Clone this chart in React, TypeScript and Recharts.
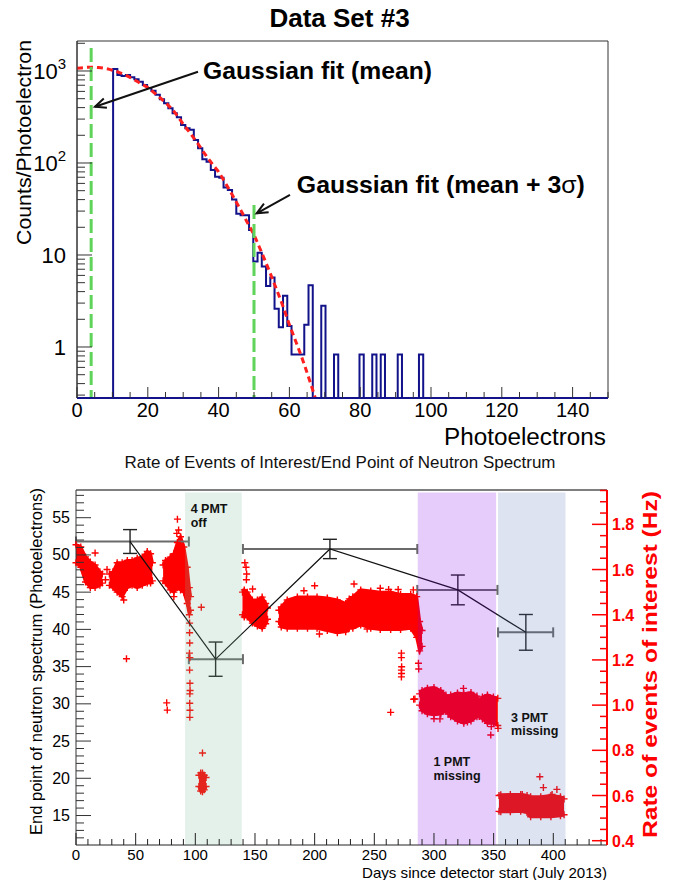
import React from "react";
import {
  ComposedChart,
  Line,
  Area,
  Scatter,
  XAxis,
  YAxis,
  ReferenceArea,
  ReferenceLine,
  ReferenceDot,
  ErrorBar,
} from "recharts";

const FONT = '"Liberation Sans", Arial, Helvetica, sans-serif';

// ---------- Data Set #3: photoelectron spectrum ----------
const BIN_START = 10.2;
const BIN_WIDTH = 1.2;
const EMPTY = 0.01; // empty bin: drawn down onto the axis
const E = EMPTY;
const binCounts = [
  1050, 905, 883, 905, 854, 813, 765, 704, 653, 611,
  550, 492, 446, 393, 347, 314, 259, 238, 230, 178,
  145, 110, 103, 84, 71, 69, 54, 51, 40, 28,
  27, 27, 18.7, 8.5, 10.6, 7.5, 4.6, 5.7, 2.6, 1.64,
  3.6, 1.69, 0.83, 0.83, 0.83, 1.74, 4.7, E, E, 2.8,
  E, E, 0.83, E, E, E, E, E, 0.83, E,
  E, 0.83, E, 0.83, E, E, E, 0.83, E, E,
  E, E, 0.83, E,
];
const fitX = [0, 2, 4, 6, 8, 10, 12, 14, 16, 18, 20, 22, 24, 26, 28, 30, 32, 34, 36, 38, 40, 42, 44, 46, 48, 50, 52, 54, 56, 58, 60, 62, 64, 66, 68];
const fitY = [1070, 1090, 1100, 1090, 1065, 1020, 960, 890, 810, 730, 660, 570, 490, 415, 340, 265, 210, 165, 127, 100, 80, 60, 44, 32, 23, 16.5, 11, 7.2, 4.6, 2.9, 1.75, 1.1, 0.68, 0.4, 0.23];
const meanX = 4;
const meanTop = 1780;
const mean3SigmaX = 50;
const mean3SigmaTop = 35;

const specXTicks = Array.from({ length: 31 }, (_, i) => i * 5);
const specXLabels = [0, 20, 40, 60, 80, 100, 120, 140];
const specDecades = [0.1, 1, 10, 100, 1000];
const specYTicks = specDecades
  .flatMap((d) => [1, 2, 3, 4, 5, 6, 7, 8, 9].map((m) => d * m))
  .filter((v) => v >= 0.29 && v <= 2100);

const histData = [
  { x: BIN_START - BIN_WIDTH, y: EMPTY },
  ...binCounts.map((c, k) => ({ x: BIN_START + k * BIN_WIDTH, y: c })),
  { x: 150, y: EMPTY },
];
const fitData = fitX.map((x, i) => ({ x, y: fitY[i] }));
const meanData = [
  { x: meanX, y: meanTop },
  { x: meanX, y: 0.279 },
];
const mean3SigmaData = [
  { x: mean3SigmaX, y: mean3SigmaTop },
  { x: mean3SigmaX, y: 0.279 },
];

// ---------- rate of events / end point ----------
// [day, low Hz, high Hz] envelopes of the dense runs of rate points
const runA: [number, number, number][] = [[0, 1.63, 1.71], [4, 1.61, 1.7], [8, 1.545, 1.656], [12, 1.52, 1.633], [16, 1.52, 1.62], [20, 1.53, 1.59], [22, 1.54, 1.58]];
const runB: [number, number, number][] = [[28, 1.53, 1.58], [31, 1.52, 1.59], [34.5, 1.5, 1.63], [38.7, 1.48, 1.63], [43, 1.52, 1.64], [47, 1.53, 1.64], [51.3, 1.52, 1.65], [55.5, 1.53, 1.655], [59.7, 1.54, 1.68], [62.5, 1.54, 1.67], [64, 1.55, 1.63]];
const runC: [number, number, number][] = [[73, 1.55, 1.62], [75, 1.54, 1.64], [79, 1.51, 1.655], [82, 1.5, 1.67], [85, 1.52, 1.72], [87.6, 1.51, 1.745], [90.4, 1.5, 1.7], [93.2, 1.45, 1.61], [95, 1.4, 1.52], [96, 1.42, 1.48]];
const runH: [number, number, number][] = [[103, 0.64, 0.69], [104.5, 0.62, 0.7], [106, 0.617, 0.7], [107.5, 0.625, 0.69], [109, 0.64, 0.68]];
const runD: [number, number, number][] = [[139.5, 1.4, 1.5], [141, 1.39, 1.51], [143.5, 1.39, 1.5], [147.8, 1.363, 1.465], [152, 1.35, 1.465], [156, 1.34, 1.478], [159, 1.36, 1.45], [160.5, 1.38, 1.43]];
const runE: [number, number, number][] = [[170, 1.37, 1.42], [172, 1.346, 1.434], [177, 1.34, 1.465], [185.5, 1.34, 1.478], [194, 1.34, 1.478], [202, 1.34, 1.478], [210.6, 1.33, 1.474], [219, 1.32, 1.465], [226, 1.325, 1.45], [229, 1.34, 1.47], [232, 1.34, 1.48], [238.6, 1.355, 1.51], [247, 1.34, 1.505], [255, 1.335, 1.5], [263.7, 1.335, 1.5], [272, 1.335, 1.49], [280.5, 1.34, 1.49], [285.5, 1.3, 1.48], [288, 1.24, 1.37], [290, 1.26, 1.33]];
const runF: [number, number, number][] = [[288, 1.0, 1.05], [290, 0.975, 1.065], [294.5, 0.962, 1.075], [300, 0.957, 1.078], [305.7, 0.96, 1.065], [310, 0.975, 1.045], [312, 0.96, 1.03], [314, 0.948, 1.045], [319.7, 0.93, 1.054], [325, 0.92, 1.05], [331, 0.93, 1.056], [336, 0.948, 1.04], [338, 0.95, 1.015], [340.6, 0.939, 1.036], [344.8, 0.92, 1.045], [349.8, 0.92, 1.036], [353.5, 0.91, 1.03]];
const runG: [number, number, number][] = [[354.5, 0.53, 0.6], [356, 0.528, 0.603], [364, 0.528, 0.605], [372.7, 0.53, 0.605], [378, 0.525, 0.6], [381, 0.506, 0.595], [389.5, 0.506, 0.595], [398, 0.506, 0.6], [406, 0.51, 0.595], [409, 0.515, 0.585]];
const rateRuns = [runA, runB, runC, runH, runD, runE, runF, runG];

// isolated rate points [day, Hz]
const rateOutliers: [number, number][] = [
  [16, 1.673], [26, 1.6], [24.7, 1.555], [40, 1.465], [42.3, 1.205], [76, 1.01], [76.5, 0.978],
  [82, 1.48], [85, 1.823], [86, 1.775], [84.5, 1.76], [95.2, 1.363], [95.2, 1.32], [95.3, 1.275],
  [95.1, 1.23], [95.4, 1.21], [95.2, 1.155], [95.5, 1.097], [95.6, 1.065], [95.4, 1.05],
  [95.3, 1.008], [95.5, 0.977], [95.4, 0.946], [105, 1.433], [106, 0.788], [148, 1.514],
  [141.5, 1.63], [142.5, 1.61], [143, 1.58], [142.8, 1.555], [191, 1.506], [200, 1.528],
  [204, 1.315], [233, 1.536], [255, 1.517], [262, 1.512], [270, 1.512], [282.7, 1.51],
  [244, 1.337], [272.7, 1.23], [272.7, 1.21], [272.9, 1.17], [272.7, 1.155], [272.8, 1.14],
  [272.7, 1.125], [287, 1.185], [287.2, 1.16], [284, 1.027], [263.7, 0.968],
  [324.7, 1.074], [283, 1.026], [348, 0.905], [347.6, 0.868], [353.7, 0.897], [300, 0.94],
  [305, 0.939], [328, 0.925], [388.7, 0.683], [391.7, 0.635], [403, 0.627], [399, 0.605], [374, 0.605],
];

// end point of the neutron spectrum per period
const endDays = [45.3, 117, 212.8, 320, 377];
const endValues = [51.8, 36.0, 50.8, 45.3, 39.6];
const endErrY = [1.6, 2.3, 1.3, 2.0, 2.4];
const endErrXLow = [45.3, 22.4, 72.9, 34, 23.3];
const endErrXHigh = [49.3, 22.9, 73.2, 33.2, 22.9];

const bandStart = [91.4, 286.4, 353.7];
const bandEnd = [138.9, 352.1, 410.2];

const dayTicks = Array.from({ length: 45 }, (_, i) => i * 10);
const leftTicks = Array.from({ length: 47 }, (_, i) => 12 + i);
const rightTicks = Array.from({ length: 32 }, (_, i) => +(0.4 + i * 0.05).toFixed(2));

const runData = rateRuns.map((run) => run.map(([day, lo, hi]) => ({ day, range: [lo, hi] })));
const edgePoints = rateRuns.flatMap((run) =>
  run.flatMap(([day, lo, hi]) => [
    { day, v: lo },
    { day, v: hi },
  ])
);
const outlierPoints = rateOutliers.map(([day, v]) => ({ day, v }));
const endData = endDays.map((day, i) => ({
  day,
  end: endValues[i],
  ey: endErrY[i],
  ex: [endErrXLow[i], endErrXHigh[i]],
}));

// ---------- ticks ----------
const SpecXTick = (p: any) => {
  const { x, y, payload } = p;
  const v = payload.value;
  const major = v % 20 === 0;
  return (
    <g>
      <line x1={x} x2={x} y1={y} y2={y - (major ? 11 : 6)} stroke="#333" />
      {major && specXLabels.includes(v) && (
        <text x={x} y={y + 19} textAnchor="middle" fontSize={20} fontFamily={FONT} fill="#000">
          {v}
        </text>
      )}
    </g>
  );
};

const LogTick = (p: any) => {
  const { x, y, payload } = p;
  const v = payload.value;
  const lg = Math.log10(v);
  const exp = Math.round(lg);
  const major = Math.abs(lg - exp) < 1e-6;
  return (
    <g>
      <line x1={x} x2={x + (major ? 15 : 8)} y1={y} y2={y} stroke="#333" />
      {major && (
        <text x={x - 11} y={y + 8} textAnchor="end" fontSize={22} fontFamily={FONT} fill="#000">
          {exp === 0 ? "1" : "10"}
          {exp > 1 && (
            <tspan dy={-10} fontSize={15}>
              {exp}
            </tspan>
          )}
        </text>
      )}
    </g>
  );
};

const DayTick = (p: any) => {
  const { x, y, payload } = p;
  const v = payload.value;
  const major = v % 50 === 0;
  return (
    <g>
      <line x1={x} x2={x} y1={y} y2={y - (major ? 12 : 6)} stroke="#222" />
      {major && v <= 400 && (
        <text x={x} y={y + 15} textAnchor="middle" fontSize={15} fontFamily={FONT} fill="#000">
          {v}
        </text>
      )}
    </g>
  );
};

const LeftTick = (p: any) => {
  const { x, y, payload } = p;
  const v = payload.value;
  const major = v % 5 === 0;
  return (
    <g>
      <line x1={x} x2={x + (major ? 15 : 8)} y1={y} y2={y} stroke="#333" />
      {major && (
        <text x={x - 6} y={y + 5.5} textAnchor="end" fontSize={16} fontFamily={FONT} fill="#000">
          {v}
        </text>
      )}
    </g>
  );
};

const RightTick = (p: any) => {
  const { x, y, payload } = p;
  const v = payload.value;
  const major = Math.abs(v / 0.2 - Math.round(v / 0.2)) < 1e-6;
  return (
    <g>
      <line x1={x} x2={x - (major ? 15 : 7)} y1={y} y2={y} stroke="#ff0000" strokeWidth={1.5} />
      {major && (
        <text x={x + 5} y={y + 6} fontSize={16} fontWeight="bold" fontFamily={FONT} fill="#ff0000">
          {v.toFixed(1)}
        </text>
      )}
    </g>
  );
};

// ---------- shapes ----------
const PlusMark = (p: any) => {
  const { cx, cy } = p;
  if (cx == null || cy == null) return <g />;
  return <path d={`M${cx - 3.5},${cy}H${cx + 3.5}M${cx},${cy - 3.5}V${cy + 3.5}`} stroke="#ff0000" strokeWidth={1.4} fill="none" />;
};

const NoMark = () => <g />;

const arrowShape = (dx: number, dy: number) => (p: any) => {
  const { cx, cy } = p;
  const tx = cx + dx;
  const ty = cy + dy;
  const ang = Math.atan2(cy - ty, cx - tx);
  const L = 12;
  const s = 0.42;
  const h1 = `${cx - L * Math.cos(ang - s)},${cy - L * Math.sin(ang - s)}`;
  const h2 = `${cx - L * Math.cos(ang + s)},${cy - L * Math.sin(ang + s)}`;
  return (
    <g>
      <line x1={tx} y1={ty} x2={cx} y2={cy} stroke="#111" strokeWidth={2} />
      <polyline points={`${h1} ${cx},${cy} ${h2}`} fill="none" stroke="#111" strokeWidth={2} />
    </g>
  );
};

const bigLabel = (content: React.ReactNode, len: number) => (p: any) => (
  <text x={p.cx} y={p.cy} fontSize={23} fontWeight="bold" fontFamily={FONT} fill="#000" textLength={len} lengthAdjust="spacingAndGlyphs">
    {content}
  </text>
);

const bandLabel = (l1: string, l2: string) => (p: any) => (
  <g>
    <text x={p.cx} y={p.cy} fontSize={12.5} fontWeight="bold" fontFamily={FONT} fill="#111">
      {l1}
    </text>
    <text x={p.cx} y={p.cy + 13.5} fontSize={12.5} fontWeight="bold" fontFamily={FONT} fill="#111">
      {l2}
    </text>
  </g>
);

function SpectrumChart() {
  return (
    <ComposedChart width={678} height={450} margin={{ top: 41, right: 70, bottom: 22, left: 0 }}>
      <XAxis
        type="number"
        dataKey="x"
        domain={[0, 150]}
        allowDataOverflow
        ticks={specXTicks}
        interval={0}
        tickSize={0}
        tickMargin={0}
        tick={<SpecXTick />}
        height={30}
        axisLine={{ stroke: "#12128a", strokeWidth: 2 }}
      />
      <YAxis
        type="number"
        scale="log"
        domain={[0.279, 2118]}
        allowDataOverflow
        ticks={specYTicks}
        interval={0}
        tickSize={0}
        tickMargin={0}
        tick={<LogTick />}
        width={77}
        axisLine={{ stroke: "#333" }}
      />
      <ReferenceArea x1={0} x2={150} fill="none" stroke="#333" strokeWidth={1} />
      <Line data={histData} dataKey="y" type="stepAfter" stroke="#12128a" strokeWidth={2} dot={false} activeDot={false} isAnimationActive={false} />
      <Line data={fitData} dataKey="y" type="monotone" stroke="#ff1f1f" strokeWidth={3} strokeDasharray="6 4" dot={false} activeDot={false} isAnimationActive={false} />
      <Line data={meanData} dataKey="y" stroke="#5fd35a" strokeWidth={3} strokeDasharray="14 5" dot={false} activeDot={false} isAnimationActive={false} />
      <Line data={mean3SigmaData} dataKey="y" stroke="#5fd35a" strokeWidth={3} strokeDasharray="14 5" dot={false} activeDot={false} isAnimationActive={false} />
      <ReferenceDot x={5.08} y={409} r={1} shape={arrowShape(103, -35)} />
      <ReferenceDot x={50.76} y={28.4} r={1} shape={arrowShape(33.3, -18.3)} />
      <ReferenceDot x={35.6} y={812} r={1} shape={bigLabel("Gaussian fit (mean)", 229)} />
      <ReferenceDot
        x={62.1}
        y={46.9}
        r={1}
        shape={bigLabel(
          <>
            Gaussian fit (mean + 3<tspan fontWeight="normal">σ</tspan>)
          </>,
          288
        )}
      />
    </ComposedChart>
  );
}

function RateChart() {
  return (
    <ComposedChart width={678} height={430} margin={{ top: 40, right: 0, bottom: 10, left: 0 }}>
      <XAxis
        type="number"
        dataKey="day"
        domain={[0, 445]}
        ticks={dayTicks}
        interval={0}
        tickSize={0}
        tickMargin={0}
        tick={<DayTick />}
        height={25}
        axisLine={{ stroke: "#222" }}
      />
      <YAxis
        yAxisId="left"
        type="number"
        domain={[11.04, 58.72]}
        ticks={leftTicks}
        interval={0}
        tickSize={0}
        tickMargin={0}
        tick={<LeftTick />}
        width={76}
        axisLine={{ stroke: "#333" }}
      />
      <YAxis
        yAxisId="right"
        orientation="right"
        type="number"
        domain={[0.381, 1.952]}
        ticks={rightTicks}
        interval={0}
        tickSize={0}
        tickMargin={0}
        tick={<RightTick />}
        width={71}
        axisLine={{ stroke: "#ff0000", strokeWidth: 2 }}
      />
      <ReferenceLine yAxisId="left" y={58.72} stroke="#555" strokeWidth={1.5} />
      {runData.map((d, i) => (
        <Area
          key={i}
          yAxisId="right"
          data={d}
          dataKey="range"
          type="linear"
          stroke="#ff0000"
          strokeWidth={3}
          fill="#ff0000"
          fillOpacity={1}
          dot={false}
          activeDot={false}
          isAnimationActive={false}
        />
      ))}
      <Scatter yAxisId="right" data={edgePoints} dataKey="v" shape={PlusMark} isAnimationActive={false} />
      <Scatter yAxisId="right" data={outlierPoints} dataKey="v" shape={PlusMark} isAnimationActive={false} />
      <Scatter
        yAxisId="left"
        data={endData}
        dataKey="end"
        shape={NoMark}
        line={{ stroke: "#111", strokeWidth: 1.2 }}
        lineType="joint"
        isAnimationActive={false}
      >
        <ErrorBar dataKey="ex" direction="x" width={5} stroke="#6a6a6a" strokeWidth={2} />
        <ErrorBar dataKey="ey" direction="y" width={7} stroke="#222" strokeWidth={1.4} />
      </Scatter>
      <ReferenceArea yAxisId="left" x1={bandStart[0]} x2={bandEnd[0]} y1={11.04} y2={58.4} fill="#78b996" fillOpacity={0.2} stroke="none" zIndex={700} />
      <ReferenceArea yAxisId="left" x1={bandStart[1]} x2={bandEnd[1]} y1={11.04} y2={58.4} fill="#8000e6" fillOpacity={0.2} stroke="none" zIndex={700} />
      <ReferenceArea yAxisId="left" x1={bandStart[2]} x2={bandEnd[2]} y1={11.04} y2={58.4} fill="#5573b9" fillOpacity={0.2} stroke="none" zIndex={700} />
      <ReferenceDot yAxisId="left" x={96.1} y={55.59} r={1} shape={bandLabel("4 PMT", "off")} zIndex={2000} />
      <ReferenceDot yAxisId="left" x={299.5} y={21.65} r={1} shape={bandLabel("1 PMT", "missing")} zIndex={2000} />
      <ReferenceDot yAxisId="left" x={364.6} y={27.6} r={1} shape={bandLabel("3 PMT", "missing")} zIndex={2000} />
    </ComposedChart>
  );
}

export default function App() {
  return (
    <div style={{ position: "absolute", left: 0, top: 0, width: 678, height: 880, background: "#fff", fontFamily: FONT }}>
      <div style={{ position: "absolute", left: 0, top: 0 }}>
        <SpectrumChart />
      </div>
      <div style={{ position: "absolute", left: 0, top: 450 }}>
        <RateChart />
      </div>
      <svg width={678} height={880} style={{ position: "absolute", left: 0, top: 0, pointerEvents: "none" }}>
        <text x={339.5} y={27} textAnchor="middle" fontSize={26} fontWeight="bold" fontFamily={FONT} fill="#000">
          Data Set #3
        </text>
        <text transform="translate(31,40) rotate(-90)" textAnchor="end" fontSize={21} fontFamily={FONT} fill="#000" textLength={205} lengthAdjust="spacingAndGlyphs">
          Counts/Photoelectron
        </text>
        <text x={606} y={445} textAnchor="end" fontSize={23} fontFamily={FONT} fill="#000" textLength={162} lengthAdjust="spacingAndGlyphs">
          Photoelectrons
        </text>
        <text x={340} y={468} textAnchor="middle" fontSize={17} fontFamily={FONT} fill="#111" textLength={431} lengthAdjust="spacingAndGlyphs">
          Rate of Events of Interest/End Point of Neutron Spectrum
        </text>
        <text transform="translate(42,488) rotate(-90)" textAnchor="end" fontSize={16} fontFamily={FONT} fill="#000" textLength={347} lengthAdjust="spacingAndGlyphs">
          End point of neutron spectrum (Photoelectrons)
        </text>
        <text transform="translate(657,491) rotate(-90)" textAnchor="end" fontSize={20} fontWeight="bold" fontFamily={FONT} fill="#ff0000" textLength={347} lengthAdjust="spacingAndGlyphs">
          Rate of events of interest (Hz)
        </text>
        <text x={607} y={878} textAnchor="end" fontSize={14.5} fontFamily={FONT} fill="#000" textLength={245} lengthAdjust="spacingAndGlyphs">
          Days since detector start (July 2013)
        </text>
      </svg>
    </div>
  );
}
